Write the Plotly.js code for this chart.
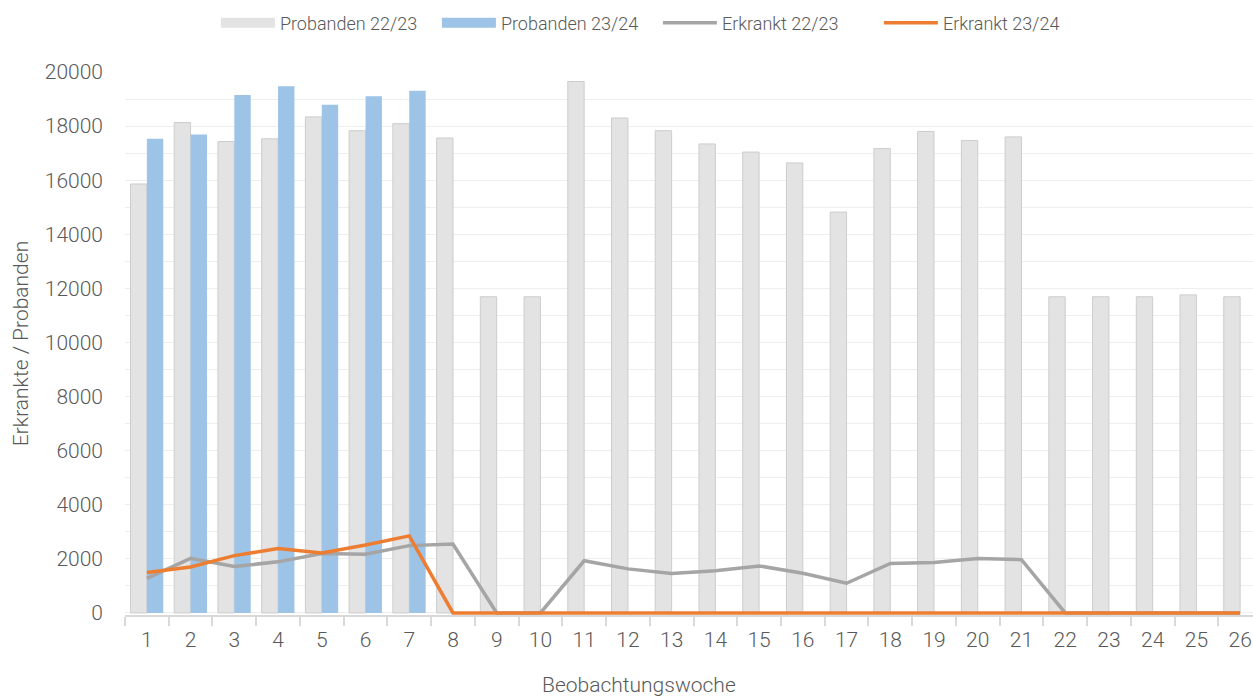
<!DOCTYPE html>
<html>
<head>
<meta charset="utf-8">
<script src="https://cdn.plot.ly/plotly-3.0.1.min.js"></script>
<style>
html,body{margin:0;padding:0;overflow:hidden;background:#fff;}
#chart{width:1275px;height:697px;}
</style>
</head>
<body>
<div id="chart"></div>
<script>
const weeks = ['1','2','3','4','5','6','7','8','9','10','11','12','13','14','15','16','17','18','19','20','21','22','23','24','25','26'];
const probanden2223 = [15860,18130,17430,17530,18340,17830,18090,17560,11690,11690,19650,18300,17830,17340,17040,16640,14820,17170,17800,17470,17600,11690,11690,11690,11760,11690];
const probanden2324 = [17530,17690,19150,19470,18790,19100,19310,null,null,null,null,null,null,null,null,null,null,null,null,null,null,null,null,null,null,null];
const erkrankt2223 = [1280,2020,1720,1890,2200,2170,2490,2550,0,0,1930,1630,1460,1560,1740,1470,1100,1830,1870,2010,1970,0,0,0,0,0];
const erkrankt2324 = [1500,1700,2120,2380,2220,2510,2850,0,0,0,0,0,0,0,0,0,0,0,0,0,0,0,0,0,0,0];
const seriesNames = ['Probanden 22/23','Probanden 23/24','Erkrankt 22/23','Erkrankt 23/24'];
const xTitle = 'Beobachtungswoche';
const yTitle = 'Erkrankte / Probanden';

const FONT = 'Roboto, Liberation Sans Narrow, DejaVu Sans Condensed, sans-serif';
const TXT = '#595959';
const C_GRAY_BAR = '#e3e3e3', C_BLUE = '#9dc3e6', C_GRAY_LINE = '#a5a5a5', C_ORANGE = '#ed7d31';

const traces = [
  {type:'bar', name:seriesNames[0], x:weeks, y:probanden2223, showlegend:false, legendgroup:'a',
   marker:{color:C_GRAY_BAR, line:{color:'#cdcdcd', width:1}}},
  {type:'bar', name:seriesNames[1], x:weeks, y:probanden2324, showlegend:false, legendgroup:'b',
   marker:{color:C_BLUE, line:{width:0}}},
  {type:'scatter', mode:'lines', name:seriesNames[2], x:weeks, y:erkrankt2223, showlegend:false, legendgroup:'c',
   line:{color:C_GRAY_LINE, width:3.5}},
  {type:'scatter', mode:'lines', name:seriesNames[3], x:weeks, y:erkrankt2324, showlegend:false, legendgroup:'d',
   line:{color:C_ORANGE, width:3.5}},
  // legend entries (no data, legend swatches only)
  {type:'scatter', mode:'lines', name:seriesNames[0], x:[null], y:[null], legendgroup:'a', line:{color:C_GRAY_BAR, width:12}},
  {type:'scatter', mode:'lines', name:seriesNames[1], x:[null], y:[null], legendgroup:'b', line:{color:C_BLUE, width:12}},
  {type:'scatter', mode:'lines', name:seriesNames[2], x:[null], y:[null], legendgroup:'c', line:{color:C_GRAY_LINE, width:3.5}},
  {type:'scatter', mode:'lines', name:seriesNames[3], x:[null], y:[null], legendgroup:'d', line:{color:C_ORANGE, width:3.5}}
];

const layout = {
  width:1275, height:697,
  margin:{l:125, r:13, t:72, b:82},
  paper_bgcolor:'#fff', plot_bgcolor:'#fff',
  font:{family:FONT, color:TXT, size:21, weight:300},
  barmode:'group', bargap:0.25, bargroupgap:0,
  showlegend:true,
  legend:{orientation:'h', xref:'container', yref:'container', x:0.516, xanchor:'center', y:0.967, yanchor:'middle',
          font:{size:18, color:TXT, weight:300}, itemwidth:54, entrywidth:152, entrywidthmode:'pixels',
          traceorder:'normal', tracegroupgap:0},
  xaxis:{type:'category', categoryorder:'array', categoryarray:weeks,
         tickson:'boundaries', ticks:'outside', ticklen:9, tickwidth:2, tickcolor:'#d9d9d9',
         showline:true, linecolor:'#d9d9d9', linewidth:2, showgrid:false, zeroline:false,
         tickfont:{size:21, color:TXT, weight:300}, ticklabelstandoff:5,
         range:[-0.5,25.5], automargin:false, fixedrange:true},
  yaxis:{range:[-75,20000], tickmode:'linear', tick0:0, dtick:2000, tickformat:'d', ticks:'',
         showgrid:true, gridcolor:'#eeeeee', gridwidth:1,
         minor:{dtick:1000, tick0:0, showgrid:true, gridcolor:'#eeeeee', gridwidth:1},
         zeroline:false, showline:false,
         tickfont:{size:21, color:TXT, weight:300}, ticklabelstandoff:21,
         title:{text:yTitle, font:{size:21, color:TXT, weight:300}, standoff:10},
         automargin:false, fixedrange:true},
  annotations:[{text:xTitle, xref:'paper', yref:'paper', x:0.452, y:-0.129, xanchor:'center', yanchor:'middle',
                showarrow:false, font:{size:21, color:TXT, weight:300}}]
};

Plotly.newPlot('chart', traces, layout, {displayModeBar:false, staticPlot:true});
</script>
</body>
</html>
